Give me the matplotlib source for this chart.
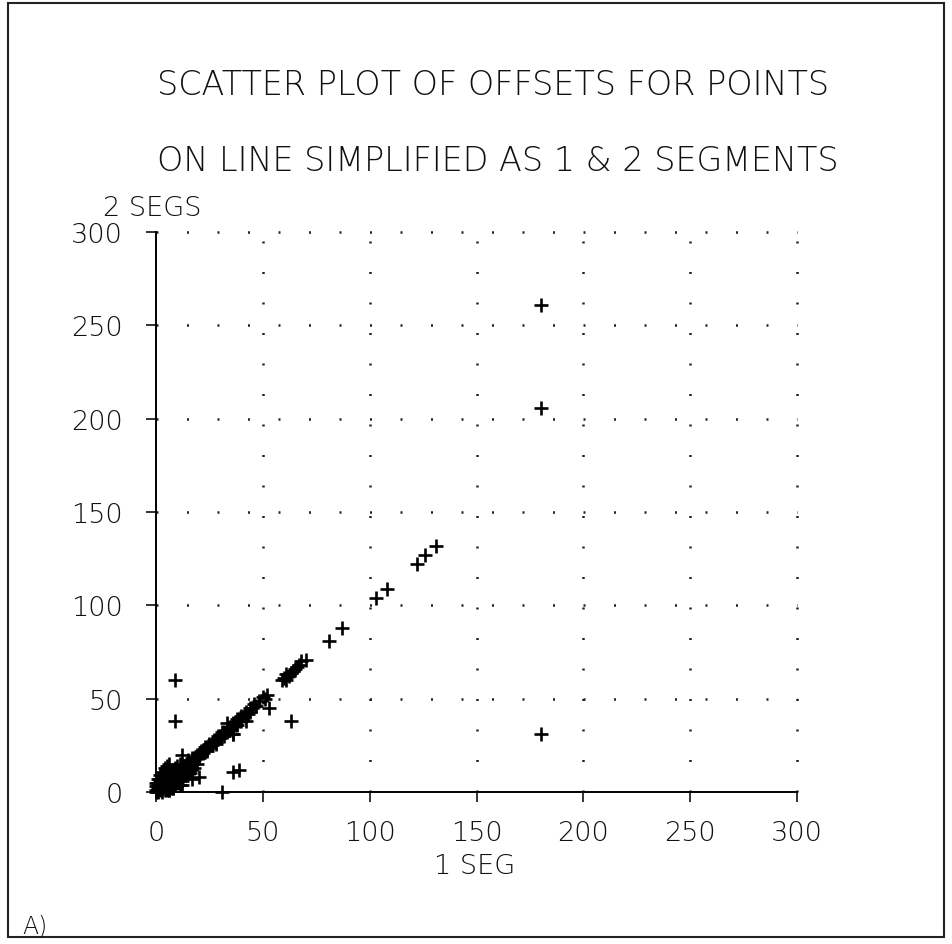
import matplotlib.pyplot as plt
from matplotlib.patches import Rectangle

plt.rcParams['font.family'] = ['DejaVu Sans']

# offsets: 1 segment (x) vs 2 segments (y)
blob_x = [0, 1, 0, 1, 2, 1, 2, 3, 2, 3, 4, 3, 4, 5, 4, 5, 6, 5, 6, 7, 6, 7, 8, 7, 8, 9, 8, 9, 10, 9,
          10, 11, 10, 11, 12, 11, 12, 13, 12, 13, 14, 13, 14, 15,
          2, 3, 4, 5, 6, 8, 10, 12, 7, 9, 11, 13, 14, 3, 0, 5, 1, 6, 9, 15, 16, 11, 2, 8, 12, 10,
          4, 7, 16, 17, 15, 18, 19, 14, 1, 3, 6, 0, 2, 5, 8, 11, 4,
          3, 5, 7, 9, 11, 13, 6, 8, 10, 12, 14, 16, 2, 4, 1]
blob_y = [0, 0, 1, 1, 1, 2, 2, 2, 3, 3, 3, 4, 4, 4, 5, 5, 5, 6, 6, 6, 7, 7, 7, 8, 8, 8, 9, 9, 9, 10,
          10, 10, 11, 11, 11, 12, 12, 12, 13, 13, 13, 14, 14, 14,
          6, 8, 10, 12, 3, 4, 5, 6, 11, 13, 7, 9, 10, 0, 3, 1, 5, 9, 6, 11, 12, 15, 7, 12, 8, 14,
          8, 2, 14, 15, 17, 13, 15, 9, 7, 11, 1, 5, 9, 14, 2, 4, 13,
          5, 9, 4, 11, 8, 10, 1, 2, 7, 4, 11, 10, 4, 1, 3]

band_x = [16, 17, 18, 18, 19, 20, 20, 21, 22, 22, 23, 24, 24, 25, 26, 26, 27, 28, 28, 29, 30, 30,
          17, 19, 21, 23, 25, 27, 29, 20, 24, 28,
          31, 32, 33, 33, 34, 35, 35, 36, 37, 37, 38, 39, 39, 40, 41, 42, 43, 44, 45, 46, 47, 48,
          50, 52, 51, 36, 34, 32, 38, 40, 44,
          59, 60, 61, 62, 63, 64, 65, 66, 67, 68, 70, 61]
band_y = [16, 17, 18, 17, 19, 20, 19, 21, 22, 21, 23, 24, 23, 25, 26, 25, 27, 28, 27, 29, 30, 29,
          18, 20, 22, 24, 26, 28, 30, 18, 22, 26,
          32, 32, 33, 32, 35, 35, 34, 37, 37, 36, 39, 39, 38, 41, 41, 43, 42, 45, 45, 47, 46, 49,
          51, 52, 50, 31, 33, 30, 36, 38, 43,
          60, 61, 60, 62, 64, 65, 66, 67, 68, 70, 71, 63]

other_x = [53, 63, 36, 39, 17, 20, 12, 9, 9, 6, 31, 42, 36, 33,
           81, 87, 103, 108, 122, 126, 131, 180, 180, 180]
other_y = [45, 38, 11, 12, 7, 8, 20, 38, 60, 15, 0, 38, 31, 37,
           81, 88, 104, 109, 122, 127, 132, 261, 206, 31]

ticks = [0, 50, 100, 150, 200, 250, 300]
grid_at = [50, 100, 150, 200, 250, 300]

fig = plt.figure(figsize=(9.52, 9.45), dpi=100)
ax = fig.add_axes([0.1639, 0.1608, 0.6733, 0.5926])

for gx, gy in [(blob_x, blob_y), (band_x, band_y), (other_x, other_y)]:
    ax.plot(gx, gy, linestyle='none', marker='+', markersize=9.5, markeredgewidth=1.9,
            color='black', clip_on=False)

for g in grid_at:
    ax.plot([g, g], [0, 300], color='#222222', linewidth=1.8,
            linestyle=(0, (0.8, 11.4)), clip_on=False)
    ax.plot([0, 300], [g, g], color='#222222', linewidth=1.8,
            linestyle=(0, (0.8, 11.4)), clip_on=False)

ax.set_xlim(0, 300)
ax.set_ylim(0, 300)
ax.set_xticks(ticks)
ax.set_yticks(ticks)
ax.spines['top'].set_visible(False)
ax.spines['right'].set_visible(False)
ax.spines['left'].set_linewidth(1.4)
ax.spines['bottom'].set_linewidth(1.4)
ax.tick_params(axis='both', direction='out', length=7, width=1.2, labelsize=19.5, colors='#111111')
ax.tick_params(axis='x', pad=13)
ax.tick_params(axis='y', pad=17)
for lab in ax.get_xticklabels() + ax.get_yticklabels():
    lab.set_fontweight('light')

tk = dict(color='#111111', fontweight='light')
fig.text(157 / 952, 1 - 95 / 945, 'SCATTER PLOT OF OFFSETS FOR POINTS',
         fontsize=24, ha='left', va='baseline', **tk)
fig.text(157 / 952, 1 - 171 / 945, 'ON LINE SIMPLIFIED AS 1 & 2 SEGMENTS',
         fontsize=24, ha='left', va='baseline', **tk)
fig.text(103 / 952, 1 - 216 / 945, '2 SEGS', fontsize=19.5, ha='left', va='baseline', **tk)
fig.text(475 / 952, 1 - 874 / 945, '1 SEG', fontsize=19.5, ha='center', va='baseline', **tk)
fig.text(22 / 952, 1 - 934 / 945, 'A)', fontsize=17, ha='left', va='baseline', **tk)

fig.add_artist(Rectangle((8 / 952, 1 - 938 / 945), 936 / 952, 934 / 945, fill=False,
                         linewidth=1.5, edgecolor='#222222', transform=fig.transFigure))

fig.savefig('out.png', dpi=100)
